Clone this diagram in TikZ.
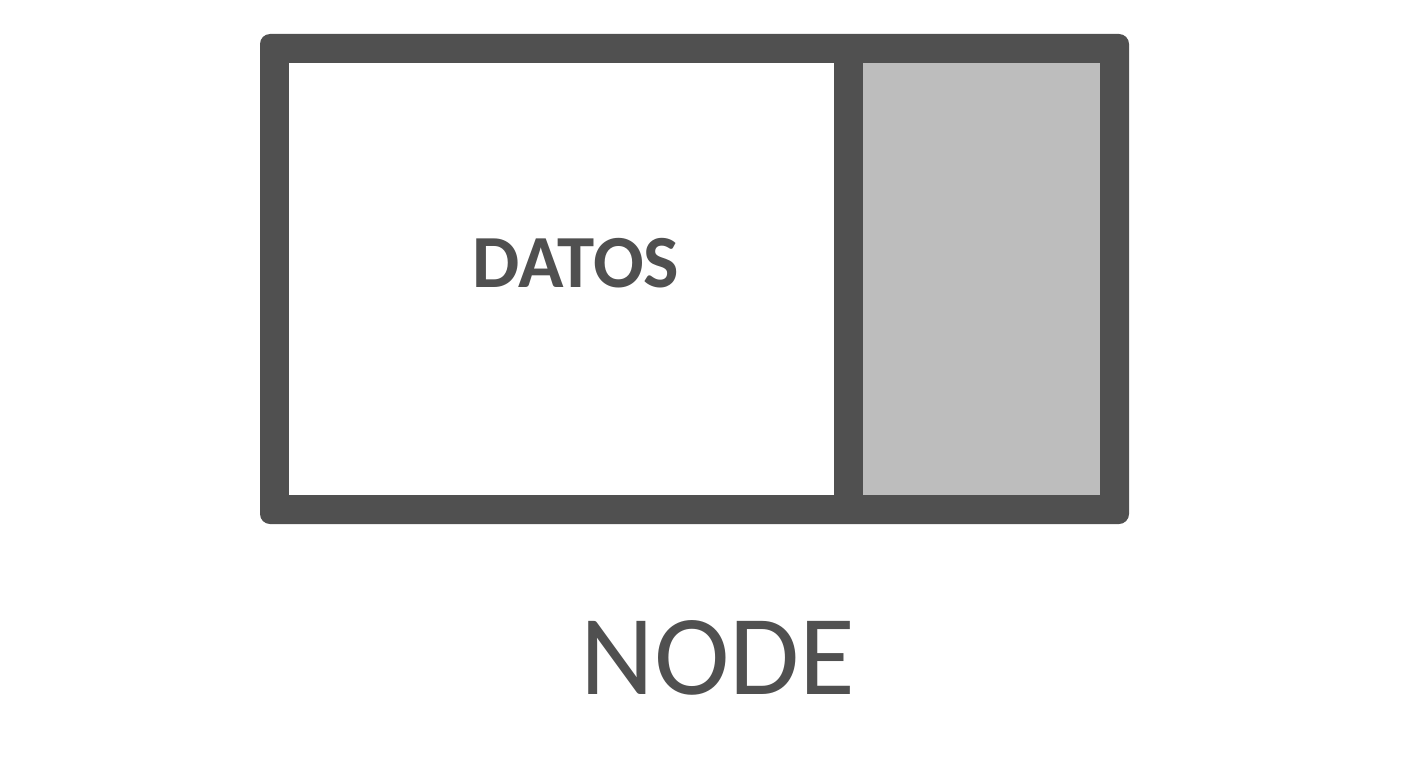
\documentclass[tikz,border=0pt]{standalone}
\usepackage{fontspec}
\setmainfont{Carlito}
\definecolor{frame}{HTML}{505050}
\definecolor{cell}{HTML}{BDBDBD}
\begin{document}
\begin{tikzpicture}[x=1pt,y=-1pt,
  box/.style={rectangle,inner sep=0pt,outer sep=0pt},
  lbl/.style={inner sep=0pt,outer sep=0pt,text=frame,anchor=base}]
\useasboundingbox[fill=white] (0,0) rectangle (1408,768);
\node[box,fill=frame,rounded corners=10pt,minimum width=869pt,minimum height=490pt] (frameN) at (694.5,279) {};
\node[box,fill=white,minimum width=545pt,minimum height=432pt] (data) at (561.5,279) {};
\node[box,fill=cell,minimum width=237pt,minimum height=432pt] (next) at (981.5,279) {};
\node[lbl,font=\fontsize{75}{80}\selectfont\bfseries] (datos) at (576,287) {DATOS};
\node[lbl,font=\fontsize{114}{120}\selectfont] (nodeL) at (718,694) {NODE};
\end{tikzpicture}
\end{document}
